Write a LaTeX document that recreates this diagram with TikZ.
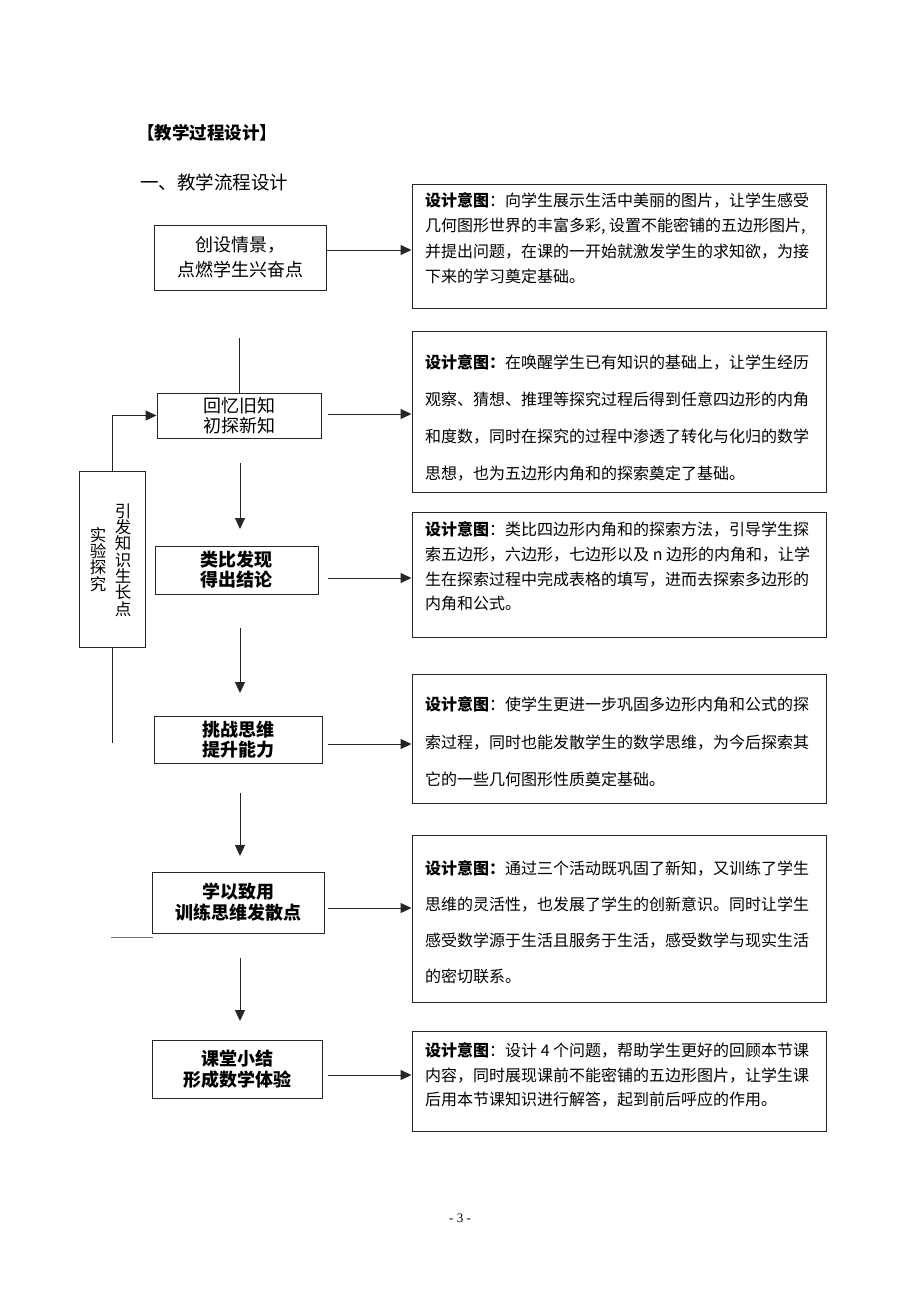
\documentclass[tikz,border=0pt]{standalone}
\usepackage{fontspec}
\setmainfont{Noto Sans CJK SC}
\newfontfamily\latinserif{Liberation Serif}
\usetikzlibrary{arrows.meta}
\begin{document}
\begin{tikzpicture}[x=1pt,y=-1pt,
  ln/.style={line width=1pt, draw=black!85},
  arr/.style={ln, -{Triangle[length=11pt,width=10pt]}},
  lbox/.style={ln, inner sep=0pt, align=center, font=\fontsize{18}{20}\selectfont},
  rbox/.style={ln, inner sep=0pt, minimum width=414pt},
  rtext/.style={inner sep=0pt, anchor=north west, align=left}
]
\useasboundingbox[fill=white] (0,0) rectangle (920,1302);

% headings
\node[anchor=west, inner sep=0pt, font=\bfseries\fontsize{17.5}{20}\selectfont] (title) at (137,133) {【教学过程设计】};
\node[anchor=west, inner sep=0pt, font=\fontsize{18.5}{20}\selectfont] (sub) at (140,182) {一、教学流程设计};

% left process boxes
\node[lbox, minimum width=172pt, minimum height=65pt, font=\fontsize{18}{25}\selectfont] (b1) at (240,257.5) {创设情景，\\点燃学生兴奋点};
\node[lbox, minimum width=164pt, minimum height=45pt] (b2) at (239,415.5) {回忆旧知\\初探新知};
\node[lbox, minimum width=163pt, minimum height=48pt, font=\bfseries\fontsize{18}{20}\selectfont] (b3) at (236.5,570) {类比发现\\得出结论};
\node[lbox, minimum width=168pt, minimum height=47pt, font=\bfseries\fontsize{18}{20}\selectfont] (b4) at (238,739.5) {挑战思维\\提升能力};
\node[lbox, minimum width=172pt, minimum height=61pt, font=\bfseries\fontsize{18}{21}\selectfont] (b5) at (238,902.5) {学以致用\\训练思维发散点};
\node[lbox, minimum width=170pt, minimum height=58pt, font=\bfseries\fontsize{18}{21}\selectfont] (b6) at (237,1069) {课堂小结\\形成数学体验};

% right boxes
\node[rbox, minimum height=124pt] (r1) at (619,246) {};
\node[rbox, minimum height=161pt] (r2) at (619,411.5) {};
\node[rbox, minimum height=125pt] (r3) at (619,574.5) {};
\node[rbox, minimum height=129pt] (r4) at (619,738.5) {};
\node[rbox, minimum height=167pt] (r5) at (619,918.5) {};
\node[rbox, minimum height=100pt] (r6) at (619,1081) {};

% right texts
\node[rtext, font=\fontsize{16}{25.3}\selectfont] (t1) at (425,192.5) {{\bfseries 设计意图}：向学生展示生活中美丽的图片，让学生感受\\几何图形世界的丰富多彩, 设置不能密铺的五边形图片,\\并提出问题，在课的一开始就激发学生的求知欲，为接\\下来的学习奠定基础。};
\node[rtext, font=\fontsize{16}{36.8}\selectfont] (t2) at (425,354.5) {{\bfseries 设计意图：}在唤醒学生已有知识的基础上，让学生经历\\观察、猜想、推理等探究过程后得到任意四边形的内角\\和度数，同时在探究的过程中渗透了转化与化归的数学\\思想，也为五边形内角和的探索奠定了基础。};
\node[rtext, font=\fontsize{16}{24.7}\selectfont] (t3) at (425,521.5) {{\bfseries 设计意图}：类比四边形内角和的探索方法，引导学生探\\索五边形，六边形，七边形以及 n 边形的内角和，让学\\生在探索过程中完成表格的填写，进而去探索多边形的\\内角和公式。};
\node[rtext, font=\fontsize{16}{37.5}\selectfont] (t4) at (425,696.5) {{\bfseries 设计意图}：使学生更进一步巩固多边形内角和公式的探\\索过程，同时也能发散学生的数学思维，为今后探索其\\它的一些几何图形性质奠定基础。};
\node[rtext, font=\fontsize{16}{36}\selectfont] (t5) at (425,860.5) {{\bfseries 设计意图：}通过三个活动既巩固了新知，又训练了学生\\思维的灵活性，也发展了学生的创新意识。同时让学生\\感受数学源于生活且服务于生活，感受数学与现实生活\\的密切联系。};
\node[rtext, font=\fontsize{16}{24.5}\selectfont] (t6) at (425,1042.5) {{\bfseries 设计意图}：设计 4 个问题，帮助学生更好的回顾本节课\\内容，同时展现课前不能密铺的五边形图片，让学生课\\后用本节课知识进行解答，起到前后呼应的作用。};

% horizontal arrows
\draw[arr] ([yshift=7.5pt]b1.east) -- ([yshift=7.5pt]b1.east -| r1.west);
\draw[arr, shorten <=6pt] ([yshift=1.5pt]b2.east) -- ([yshift=1.5pt]b2.east -| r2.west);
\draw[arr, shorten <=9pt] ([yshift=-8pt]b3.east) -- ([yshift=-8pt]b3.east -| r3.west);
\draw[arr, shorten <=5pt] ([yshift=-4.5pt]b4.east) -- ([yshift=-4.5pt]b4.east -| r4.west);
\draw[arr, shorten <=3pt] ([yshift=-5.5pt]b5.east) -- ([yshift=-5.5pt]b5.east -| r5.west);
\draw[arr, shorten <=5pt] ([yshift=-6pt]b6.east) -- ([yshift=-6pt]b6.east -| r6.west);

% vertical connectors
\coordinate (v0s) at (239,338);
\draw[ln] (v0s) -- (b2.north);
\coordinate (v1s) at (240,463); \coordinate (v1e) at (240,529);
\draw[arr] (v1s) -- (v1e);
\coordinate (v2s) at (240,628); \coordinate (v2e) at (240,693);
\draw[arr] (v2s) -- (v2e);
\coordinate (v3s) at (240,793); \coordinate (v3e) at (240,856);
\draw[arr] (v3s) -- (v3e);
\coordinate (v4s) at (240,958); \coordinate (v4e) at (240,1021);
\draw[arr] (v4s) -- (v4e);

% left feedback box
\node[ln, inner sep=0pt, minimum width=66pt, minimum height=176pt] (L) at (112,559) {};
\node[inner sep=0pt, align=center, font=\fontsize{16.5}{16.3}\selectfont] (c1) at (123,560) {引\\发\\知\\识\\生\\长\\点};
\node[inner sep=0pt, align=center, font=\fontsize{16.5}{16.3}\selectfont] (c2) at (98,559.5) {实\\验\\探\\究};
\draw[arr] (L.north) |- (b2.west);
\coordinate (Lend) at (112,743);
\draw[ln] (L.south) -- (Lend);
\coordinate (g1) at (111,937); \coordinate (g2) at (153,937);
\draw[ln, draw=black!55] (g1) -- (g2);

% page number
\node[inner sep=0pt, font=\latinserif\fontsize{13}{15}\selectfont] (pg) at (460,1218) {- 3 -};
\end{tikzpicture}
\end{document}
